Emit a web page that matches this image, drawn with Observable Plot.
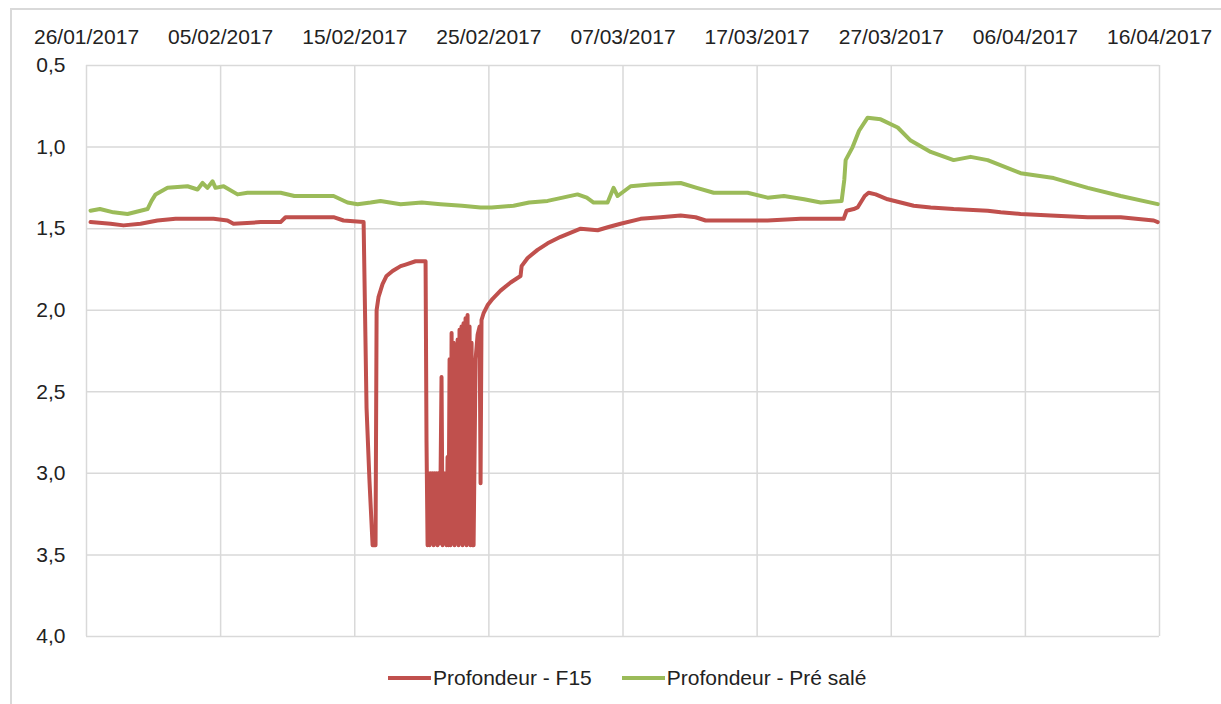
<!DOCTYPE html>
<html>
<head>
<meta charset="utf-8">
<script src="https://cdn.jsdelivr.net/npm/d3@7"></script>
<script src="https://cdn.jsdelivr.net/npm/@observablehq/plot@0.6"></script>
<style>
  body { margin: 0; background: #fff; font-family: "Liberation Sans", Arial, sans-serif; }
  #wrap { position: relative; width: 1221px; height: 704px; overflow: hidden; background: #fff; }
  #frame { position: absolute; left: 10px; top: 8px; width: 1400px; height: 900px; border-top: 2px solid #d9d9d9; border-left: 2px solid #d9d9d9; }
  #chart { position: absolute; left: 0; top: 0; }
  #legend { position: absolute; top: 666px; left: 388px; display: flex; align-items: center; font-size: 21px; color: #222; white-space: nowrap; }
  .sw { display: inline-block; width: 43px; height: 4px; margin-right: 2px; }
  .item { display: flex; align-items: center; margin-right: 30px; }
</style>
</head>
<body>
<div id="wrap">
  <div id="frame"></div>
  <div id="chart"></div>
  <div id="legend"></div>
</div>
<script>
// ---- data (days since 26/01/2017 00:00, depth in m) ----
const startDate = "2017-01-26";
const xTickLabels = ["26/01/2017","05/02/2017","15/02/2017","25/02/2017","07/03/2017","17/03/2017","27/03/2017","06/04/2017","16/04/2017"];
const yTickValues = [0.5, 1.0, 1.5, 2.0, 2.5, 3.0, 3.5, 4.0];
const seriesNames = ["Profondeur - F15", "Profondeur - Pré salé"];
const seriesColors = ["#C0504D", "#9BBB59"];

const f15Days = [0.30,1.79,2.76,4.03,5.29,6.64,7.76,9.47,10.51,10.96,12.98,14.47,14.84,16.70,18.42,19.16,20.66,20.88,21.10,21.33,21.55,21.63,21.77,22.07,22.37,22.82,23.42,23.79,24.53,25.28,25.35,25.43,
  25.50,25.58,25.65,25.73,25.80,25.88,25.95,26.03,26.10,26.17,26.25,26.32,26.40,26.47,26.55,26.62,26.70,26.77,26.85,26.92,26.99,27.07,27.14,27.22,27.29,27.37,27.44,27.52,27.59,27.67,27.74,27.81,27.89,27.96,28.04,28.11,28.19,28.26,28.34,28.41,28.49,28.56,28.63,28.71,28.78,28.86,
  29.01,29.16,29.31,29.38,29.45,29.60,29.90,30.28,30.87,31.62,32.36,32.44,32.89,33.63,34.38,35.35,36.84,38.11,38.93,39.82,41.31,42.80,44.30,45.41,46.16,48.02,50.78,53.24,54.74,56.45,56.67,57.20,57.49,58.02,58.31,58.84,59.73,60.70,61.67,62.94,64.65,67.19,68.16,69.65,71.89,74.65,77.11,79.57,79.87];
const f15Depth = [1.46,1.47,1.48,1.47,1.45,1.44,1.44,1.44,1.45,1.47,1.46,1.46,1.43,1.43,1.43,1.45,1.46,2.60,3.05,3.44,3.44,2.00,1.92,1.84,1.79,1.76,1.73,1.72,1.70,1.70,2.80,3.44,
  3.00,3.44,3.00,3.42,3.00,3.44,3.00,3.40,3.00,3.44,3.00,3.43,3.00,2.41,3.44,3.00,3.42,3.00,3.44,2.90,3.44,2.30,3.44,2.14,3.42,2.20,3.44,2.25,3.40,2.18,3.44,2.12,3.35,2.10,3.44,2.08,3.40,2.05,3.44,2.03,3.30,2.10,3.44,2.20,3.44,3.44,
  2.30,2.15,2.10,3.06,2.06,2.02,1.97,1.93,1.88,1.83,1.79,1.73,1.68,1.63,1.59,1.55,1.50,1.51,1.49,1.47,1.44,1.43,1.42,1.43,1.45,1.45,1.45,1.44,1.44,1.44,1.39,1.38,1.37,1.30,1.28,1.29,1.32,1.34,1.36,1.37,1.38,1.39,1.40,1.41,1.42,1.43,1.43,1.45,1.46];

const preDays = [0.30,1.00,2.01,3.06,4.03,4.55,4.85,5.15,6.04,7.53,8.28,8.65,9.02,9.40,9.62,10.22,11.26,12.00,12.75,14.47,15.50,16.93,18.42,19.46,20.21,21.18,21.92,23.42,25.00,26.40,28.00,29.38,30.20,31.84,33.00,34.38,35.50,36.61,37.30,37.81,38.85,39.30,39.60,40.57,42.00,44.30,45.50,46.76,48.00,49.29,50.78,52.00,53.50,54.74,56.30,56.50,56.60,57.12,57.60,58.24,59.21,60.48,61.45,62.94,64.65,65.92,67.19,69.65,72.11,74.65,77.11,79.87];
const preDepth = [1.39,1.38,1.40,1.41,1.39,1.38,1.33,1.29,1.25,1.24,1.26,1.22,1.25,1.21,1.25,1.24,1.29,1.28,1.28,1.28,1.30,1.30,1.30,1.34,1.35,1.34,1.33,1.35,1.34,1.35,1.36,1.37,1.37,1.36,1.34,1.33,1.31,1.29,1.31,1.34,1.34,1.25,1.30,1.24,1.23,1.22,1.25,1.28,1.28,1.28,1.31,1.30,1.32,1.34,1.33,1.20,1.08,1.00,0.90,0.82,0.83,0.88,0.96,1.03,1.08,1.06,1.08,1.16,1.19,1.25,1.30,1.35];

// ---- build tables ----
const t0 = d3.utcParse("%Y-%m-%d")(startDate);
const toDate = d => new Date(t0.getTime() + d * 864e5);
const parseTick = d3.utcParse("%d/%m/%Y");
const xTicks = xTickLabels.map(parseTick);
const f15 = f15Days.map((d, i) => ({date: toDate(d), depth: f15Depth[i]}));
const pre = preDays.map((d, i) => ({date: toDate(d), depth: preDepth[i]}));

const font = '"Liberation Sans", Arial, sans-serif';
const chart = Plot.plot({
  width: 1221,
  height: 650,
  marginTop: 65,
  marginLeft: 86,
  marginRight: 62,
  marginBottom: 14,
  style: {fontSize: "21px", fontFamily: font, color: "#222", background: "transparent", overflow: "visible"},
  x: {type: "utc", domain: [xTicks[0], xTicks[xTicks.length - 1]]},
  y: {domain: [yTickValues[0], yTickValues[yTickValues.length - 1]], reverse: true},
  marks: [
    Plot.gridX(xTicks, {stroke: "#d9d9d9", strokeOpacity: 1, strokeWidth: 1.5}),
    Plot.gridY(yTickValues, {stroke: "#d9d9d9", strokeOpacity: 1, strokeWidth: 1.5}),
    Plot.line(f15, {x: "date", y: "depth", stroke: seriesColors[0], strokeWidth: 4, strokeLinejoin: "round", strokeLinecap: "round"}),
    Plot.line(pre, {x: "date", y: "depth", stroke: seriesColors[1], strokeWidth: 4, strokeLinejoin: "round", strokeLinecap: "round"}),
    Plot.axisX(xTicks, {anchor: "top", tickSize: 0, tickPadding: 22, tickFormat: d3.utcFormat("%d/%m/%Y"), label: null, fill: "#222"}),
    Plot.axisY(yTickValues, {anchor: "left", tickSize: 0, tickPadding: 21, tickFormat: d => d.toFixed(1).replace(".", ","), label: null, fill: "#222"})
  ]
});
document.getElementById("chart").appendChild(chart);

const legend = document.getElementById("legend");
seriesNames.forEach((name, i) => {
  const item = document.createElement("div");
  item.className = "item";
  const sw = document.createElement("span");
  sw.className = "sw";
  sw.style.background = seriesColors[i];
  const tx = document.createElement("span");
  tx.textContent = name;
  item.appendChild(sw);
  item.appendChild(tx);
  legend.appendChild(item);
});
</script>
</body>
</html>
